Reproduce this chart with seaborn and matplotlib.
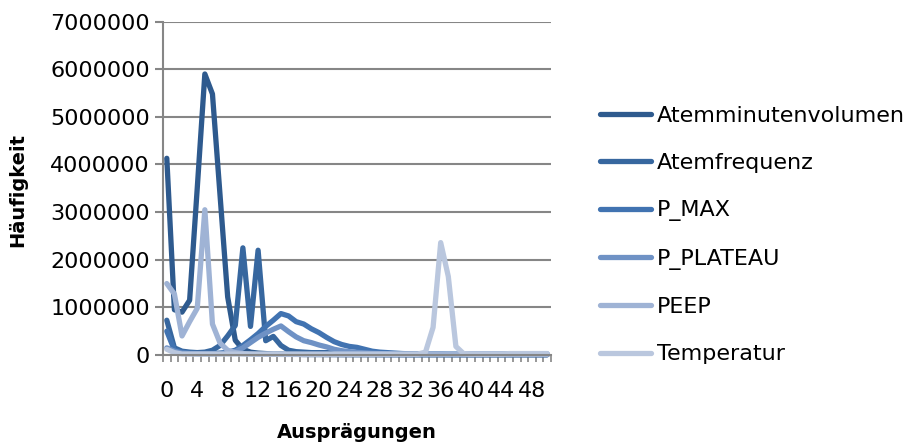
import numpy as np
import pandas as pd
import matplotlib
matplotlib.use("Agg")
import matplotlib.pyplot as plt
import seaborn as sns

# ---- data -------------------------------------------------------------
categories = list(range(51))

atemminutenvolumen = [4130000, 950000, 900000, 1150000, 3500000, 5900000, 5480000, 3350000,
                      1220000, 310000, 120000, 60000, 40000, 30000, 20000, 20000, 15000, 15000,
                      10000, 10000, 10000, 8000, 8000, 6000, 6000, 5000, 5000, 5000, 5000, 5000,
                      5000, 5000, 5000, 5000, 5000, 5000, 5000, 5000, 5000, 5000, 5000, 5000,
                      5000, 5000, 5000, 5000, 5000, 5000, 5000, 5000, 5000]
atemfrequenz = [730000, 150000, 80000, 60000, 50000, 60000, 100000, 200000, 400000, 620000,
                2250000, 600000, 2200000, 300000, 390000, 200000, 100000, 70000, 60000, 50000,
                50000, 50000, 40000, 30000, 25000, 20000, 18000, 15000, 12000, 10000, 10000,
                10000, 8000, 8000, 8000, 8000, 8000, 8000, 8000, 8000, 8000, 8000, 8000, 8000,
                8000, 8000, 8000, 8000, 8000, 8000, 8000]
p_max = [500000, 100000, 60000, 40000, 30000, 30000, 30000, 40000, 60000, 100000, 200000,
         320000, 450000, 600000, 730000, 870000, 820000, 700000, 650000, 550000, 470000,
         370000, 280000, 220000, 180000, 160000, 120000, 80000, 60000, 50000, 40000, 30000,
         25000, 20000, 15000, 15000, 15000, 12000, 12000, 12000, 10000, 10000, 10000, 10000,
         10000, 10000, 10000, 10000, 10000, 10000, 10000]
p_plateau = [150000, 80000, 40000, 30000, 30000, 30000, 30000, 30000, 40000, 70000, 150000,
             260000, 370000, 460000, 540000, 610000, 490000, 380000, 300000, 260000, 210000,
             170000, 120000, 90000, 70000, 55000, 45000, 35000, 30000, 25000, 20000, 20000,
             20000, 20000, 20000, 20000, 20000, 20000, 20000, 20000, 20000, 20000, 20000,
             20000, 20000, 25000, 25000, 25000, 25000, 25000, 25000]
peep = [1500000, 1280000, 400000, 700000, 980000, 3050000, 650000, 250000, 100000, 50000,
        30000, 20000, 15000, 15000, 15000, 12000, 12000, 12000, 10000, 10000, 10000, 10000,
        10000, 10000, 10000, 10000, 10000, 10000, 10000, 10000, 10000, 10000, 10000, 10000,
        10000, 10000, 10000, 10000, 10000, 10000, 10000, 10000, 10000, 10000, 10000, 10000,
        10000, 10000, 10000, 10000, 10000]
temperatur = [120000, 50000, 20000, 20000, 20000, 20000, 20000, 20000, 20000, 20000, 20000,
              20000, 20000, 20000, 20000, 20000, 20000, 20000, 20000, 20000, 20000, 20000,
              20000, 20000, 20000, 20000, 20000, 20000, 20000, 20000, 20000, 20000, 20000,
              20000, 60000, 580000, 2360000, 1650000, 180000, 30000, 20000, 20000, 20000,
              20000, 20000, 30000, 30000, 30000, 30000, 30000, 30000]

series_names = ["Atemminutenvolumen", "Atemfrequenz", "P_MAX", "P_PLATEAU", "PEEP", "Temperatur"]
series_values = [atemminutenvolumen, atemfrequenz, p_max, p_plateau, peep, temperatur]
colors = ["#2e5a8e", "#37679f", "#4173b1", "#6f92c5", "#9fb3d5", "#bac7de"]

xtick_labels = [str(v) for v in range(0, 49, 4)]
ytick_values = list(range(0, 7000001, 1000000))

df = pd.DataFrame({
    "x": np.tile(categories, len(series_names)),
    "y": np.concatenate(series_values),
    "series": np.repeat(series_names, len(categories)),
})

# ---- figure -----------------------------------------------------------
plt.rcParams["font.family"] = ["DejaVu Sans"]
fig = plt.figure(figsize=(9.06, 4.45), dpi=100)
ax = fig.add_axes([163 / 906, 1 - 355 / 445, (551 - 163) / 906, (355 - 21.6) / 445])

LW = 3.8
sns.lineplot(data=df, x="x", y="y", hue="series", hue_order=series_names,
             palette=colors, linewidth=LW, ax=ax, legend=False)
for ln in ax.lines:
    ln.set_solid_capstyle("round")
    ln.set_solid_joinstyle("round")
    ln.set_clip_on(False)

grey = "#868686"
ax.set_xlim(-0.5, 50.5)
ax.set_ylim(0, 7000000)
ax.set_yticks(ytick_values)
ax.set_yticklabels([str(v) for v in ytick_values])
ax.set_xticks(list(range(0, 49, 4)))
ax.set_xticklabels(xtick_labels)
ax.set_xticks(np.arange(-0.5, 51, 1), minor=True)
ax.tick_params(axis="x", which="major", length=0, pad=19, labelsize=16)
ax.tick_params(axis="x", which="minor", length=5, width=1.2, color=grey)
ax.tick_params(axis="y", which="major", length=6, width=1.5, color=grey, pad=3.5, labelsize=16)
ax.yaxis.grid(True, color=grey, linewidth=1.5)
ax.set_axisbelow(True)
for s in ["top", "right"]:
    ax.spines[s].set_visible(False)
for s in ["left", "bottom"]:
    ax.spines[s].set_color(grey)
    ax.spines[s].set_linewidth(1.5)
ax.set_xlabel("")
ax.set_ylabel("")

fig.text(18 / 906, 1 - 190 / 445, "Häufigkeit", rotation=90, fontsize=14,
         fontweight="bold", ha="center", va="center")
fig.text(357 / 906, 1 - 432 / 445, "Ausprägungen", fontsize=14,
         fontweight="bold", ha="center", va="center")

handles = [plt.Line2D([], [], color=c, linewidth=LW, solid_capstyle="round") for c in colors]
ax.legend(handles, series_names, loc="center left",
          bbox_to_anchor=(600 / 906, 1 - 235 / 445), bbox_transform=fig.transFigure,
          frameon=False, fontsize=16, handlelength=2.3, handletextpad=0.27,
          labelspacing=1.23, borderpad=0, borderaxespad=0)

fig.savefig("out.png", dpi=100)
